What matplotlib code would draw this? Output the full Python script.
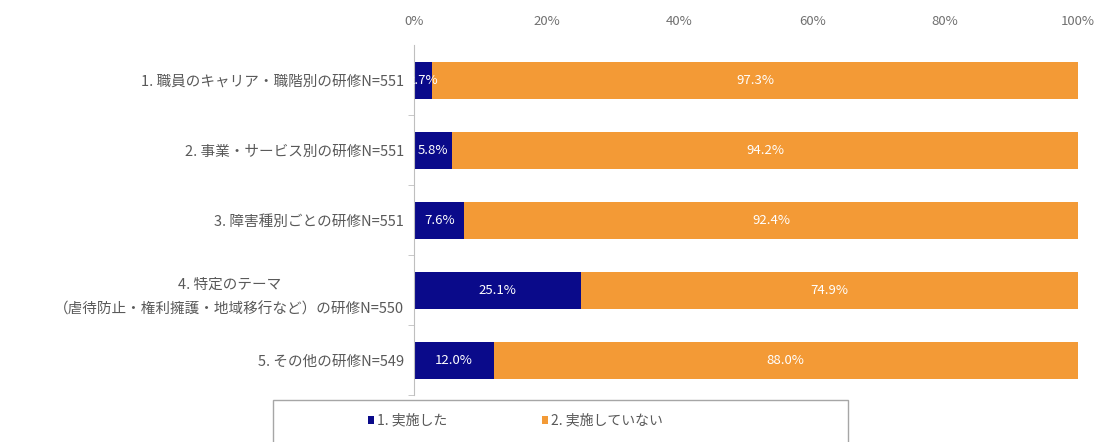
import matplotlib
matplotlib.use("Agg")
import matplotlib.pyplot as plt
from matplotlib.patches import Rectangle
from matplotlib.ticker import FixedLocator, PercentFormatter

plt.rcParams["font.family"] = ["Noto Sans CJK JP", "DejaVu Sans"]

categories = [
    "1. 職員のキャリア・職階別の研修N=551",
    "2. 事業・サービス別の研修N=551",
    "3. 障害種別ごとの研修N=551",
    "4. 特定のテーマ\n（虐待防止・権利擁護・地域移行など）の研修N=550",
    "5. その他の研修N=549",
]
done = [2.7, 5.8, 7.6, 25.1, 12.0]
not_done = [97.3, 94.2, 92.4, 74.9, 88.0]
series_names = ["1. 実施した", "2. 実施していない"]

NAVY = "#0a0a8a"
ORANGE = "#f39a36"
GRAY = "#595959"

fig = plt.figure(figsize=(11.01, 4.42), dpi=100)
ax = fig.add_axes([0.376, 0.106, 0.603, 0.792])

y = list(range(len(categories)))
b1 = ax.barh(y, done, height=0.53, color=NAVY, label=series_names[0])
b2 = ax.barh(y, not_done, left=done, height=0.53, color=ORANGE, label=series_names[1])

for bars, vals, lefts in [(b1, done, [0] * len(done)), (b2, not_done, done)]:
    for bar, v, l in zip(bars, vals, lefts):
        ax.text(l + v / 2, bar.get_y() + bar.get_height() / 2, f"{v:.1f}%",
                ha="center", va="center", color="white", fontsize=9.5)

ax.set_xlim(0, 100)
ax.set_ylim(len(categories) - 0.5, -0.5)
ax.set_yticks(y)
ax.set_yticklabels(categories, fontsize=10.5, color=GRAY, linespacing=2.0,
                   multialignment="center")
ax.yaxis.set_minor_locator(FixedLocator([i + 0.5 for i in range(len(categories))]))
ax.tick_params(axis="y", which="major", length=0, pad=7)
ax.tick_params(axis="y", which="minor", length=4, color="#bfbfbf")

ax.xaxis.tick_top()
ax.set_xticks([0, 20, 40, 60, 80, 100])
ax.xaxis.set_major_formatter(PercentFormatter(decimals=0))
ax.tick_params(axis="x", length=0, labelsize=9.5, labelcolor="#707070", pad=12)

for side in ["top", "right", "bottom"]:
    ax.spines[side].set_visible(False)
ax.spines["left"].set_color("#bfbfbf")

fig.patches.append(Rectangle((0.248, -0.05), 0.522, 0.146, transform=fig.transFigure,
                             fill=False, edgecolor="#a6a6a6", linewidth=1.0))
fig.legend(handles=[b1, b2], loc="center", bbox_to_anchor=(0.468, 0.048), ncol=2,
           frameon=False, fontsize=10, handlelength=0.45, handleheight=0.45,
           handletextpad=0.2, columnspacing=6.8, labelcolor=GRAY)

fig.savefig("out.png", dpi=100)
